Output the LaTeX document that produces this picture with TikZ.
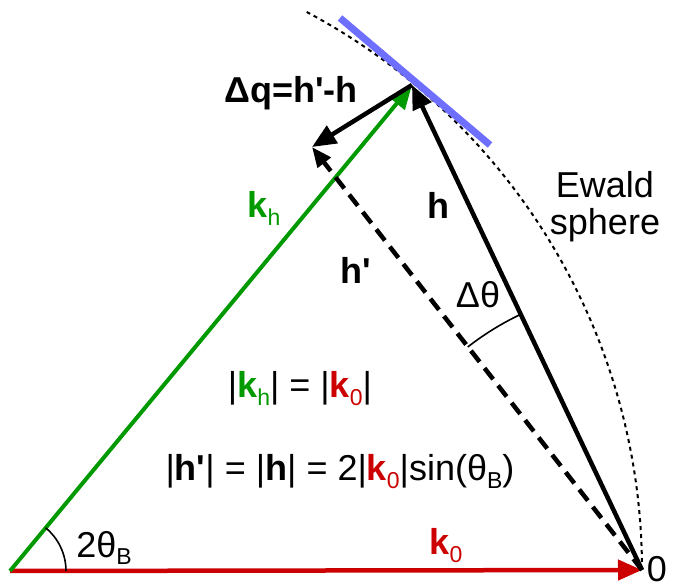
\documentclass[tikz,border=0pt]{standalone}
\usepackage{fontspec}
\setmainfont{Liberation Sans}[Ligatures=TeXOff]
\usetikzlibrary{arrows.meta}
\definecolor{kgreen}{RGB}{0,153,0}
\definecolor{kred}{RGB}{204,0,0}
\definecolor{sblue}{RGB}{110,110,255}
\newcommand\lowsub[1]{\raisebox{-0.22em}{\fontsize{23}{23}\selectfont #1}}
\begin{document}
\begin{tikzpicture}[x=1pt,y=-1pt,
  lbl/.style={font=\fontsize{36}{42}\selectfont, inner sep=0pt},
  vec/.style={line width=4.5pt, -{Triangle[length=24pt,width=20pt]}},
  dashvec/.style={line width=4.5pt, dash pattern=on 14pt off 8pt, -{Triangle[length=20pt,width=16pt]}},
  thinarc/.style={line width=1.6pt}]
\useasboundingbox (0,0) rectangle (673,585);
\coordinate (O) at (10,571);
\coordinate (Z) at (642,570);
\coordinate (P) at (412,85);
\coordinate (Q) at (312,147);
\coordinate (B1) at (340,18);
\coordinate (B2) at (490,145);
% Ewald sphere
\draw[line width=2pt, dash pattern=on 4pt off 4pt] (Z) arc[start angle=0,end angle=62,radius=632pt];
\draw[sblue, line width=7pt] (B1) -- (B2);
% vectors
\draw[vec, kred] (O) -- (Z);
\draw[vec, kgreen, line width=4pt] (O) -- (P);
\draw[dashvec] (Z) -- (Q);
\draw[vec] (Z) -- (P);
\draw[vec] (P) -- (Q);
% angles
\draw[thinarc] (Z) ++(115.4:283pt) arc[start angle=115.4,end angle=128,radius=283pt];
\draw[thinarc] (O) ++(56pt,0pt) arc[start angle=0,end angle=50.5,radius=56pt];
% labels
\node[lbl] (lq) at (291,93) {\bfseries Δq=h'-h};
\node[lbl, text=kgreen] (lkh) at (264,208) {\bfseries k\lowsub{\mdseries h}};
\node[lbl] (lh) at (438,205) {\bfseries h};
\node[lbl] (lhp) at (356,270) {\bfseries h'};
\node[lbl] (ldt) at (478,295) {Δθ};
\node[lbl, align=center] (lew) at (605,207) {Ewald\\[-5pt]sphere};
\node[lbl] (leq1) at (300,389) {|{\color{kgreen}\bfseries k\lowsub{\mdseries h}}| = |{\color{kred}\bfseries k\lowsub{\mdseries 0}}|};
\node[lbl] (leq2) at (340,472) {|\textbf{h'}| = |\textbf{h}| = 2|{\color{kred}\bfseries k\lowsub{\mdseries 0}}|sin(θ\lowsub{B})};
\node[lbl] (l2t) at (104,548) {2θ\lowsub{B}};
\node[lbl, text=kred] (lk0) at (446,546) {\bfseries k\lowsub{\mdseries 0}};
\node[lbl] (l0) at (657,569) {0};
\end{tikzpicture}
\end{document}
